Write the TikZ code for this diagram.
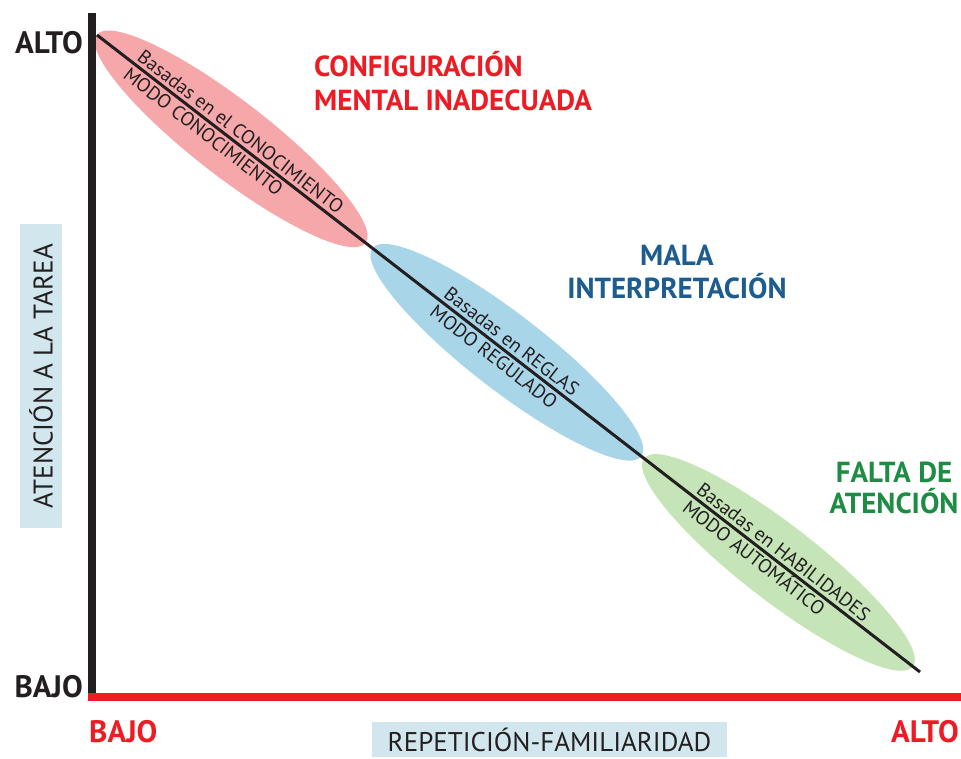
\documentclass[tikz,border=0pt]{standalone}
\usepackage{fontspec}
\setmainfont{PT Sans}
\usetikzlibrary{calc}
\usetikzlibrary{shapes.geometric}

\definecolor{pinkzone}{HTML}{F5A7A9}
\definecolor{bluezone}{HTML}{A9D5E9}
\definecolor{greenzone}{HTML}{C5E4B7}
\definecolor{redtext}{HTML}{ED1C24}
\definecolor{bluetext}{HTML}{1C5C8E}
\definecolor{greentext}{HTML}{1E8C45}
\definecolor{labelbox}{HTML}{D2E6EE}
\definecolor{axisblack}{HTML}{231F20}

\tikzset{
  zone/.style={ellipse, minimum width=340pt, minimum height=76pt, inner sep=0pt, rotate=-37.74},
  modetext/.style={rotate=-37.74, inner xsep=0pt, inner ysep=4.5pt, text height=13.5pt, text depth=0pt, font=\fontsize{19.5}{22}\selectfont, text=axisblack},
  levelmark/.style={inner sep=0pt, font=\fontsize{31}{33}\selectfont\bfseries},
  errortitle/.style={inner sep=0pt, font=\fontsize{29}{33}\selectfont\bfseries},
  axisname/.style={fill=labelbox, inner sep=0pt, font=\fontsize{27}{29}\selectfont, text=axisblack}
}

\begin{document}
\begin{tikzpicture}[x=1pt, y=-1pt]
        \useasboundingbox (0,0) rectangle (961,758);

        \coordinate (ytop) at (92,13);
        \coordinate (origin) at (92,697);
        \coordinate (xstart) at (88,697);
        \coordinate (xend) at (961,697);
        \coordinate (dtop) at (97,35);
        \coordinate (dbot) at (920,672);

        \node[zone, fill=pinkzone] (kno) at ($(dtop)!0.163!(dbot)$) {};
        \node[zone, fill=bluezone] (rul) at ($(dtop)!0.498!(dbot)$) {};
        \node[zone, fill=greenzone] (ski) at ($(dtop)!0.828!(dbot)$) {};

        \draw[line width=3pt, axisblack] (dtop) -- (dbot);

        \node[modetext, anchor=south west] (knotop) at ($(kno.center)!124pt!(dtop)$) {Basadas en el CONOCIMIENTO};
        \node[modetext, anchor=north west] (knobot) at ($(kno.center)!124pt!(dtop)$) {MODO CONOCIMIENTO};
        \node[modetext, anchor=south west] (rultop) at ($(rul.center)!85pt!(dtop)$) {Basadas en REGLAS};
        \node[modetext, anchor=north west] (rulbot) at ($(rul.center)!85pt!(dtop)$) {MODO REGULADO};
        \node[modetext, anchor=south west] (skitop) at ($(ski.center)!109pt!(dtop)$) {Basadas en HABILIDADES};
        \node[modetext, anchor=north west] (skibot) at ($(ski.center)!109pt!(dtop)$) {MODO AUTOMÁTICO};

        \draw[line width=8pt, axisblack] (ytop) -- (origin);
        \draw[line width=8pt, redtext] (xstart) -- (xend);

        \node[errortitle, text=redtext, anchor=base west] (conf1) at (314,76) {CONFIGURACIÓN};
        \node[errortitle, text=redtext, anchor=base west] (conf2) at (314,110) {MENTAL INADECUADA};
        \node[errortitle, text=bluetext, anchor=base] (mala1) at (677,265) {MALA};
        \node[errortitle, text=bluetext, anchor=base] (mala2) at (677,298) {INTERPRETACIÓN};
        \node[errortitle, text=greentext, anchor=base] (falta1) at (894,482) {FALTA DE};
        \node[errortitle, text=greentext, anchor=base] (falta2) at (894,513) {ATENCIÓN};

        \node[levelmark, text=axisblack, anchor=base east] (yhigh) at (83,53) {ALTO};
        \node[levelmark, text=axisblack, anchor=base east] (ylow) at (83,697) {BAJO};
        \node[levelmark, text=redtext, anchor=base west] (xlow) at (89,742) {BAJO};
        \node[levelmark, text=redtext, anchor=base east] (xhigh) at (959,742) {ALTO};

        \node[axisname, minimum width=355pt, minimum height=35pt] (xname) at (549.5,739.5) {REPETICIÓN-FAMILIARIDAD};
        \node[axisname, rotate=90, minimum width=304pt, minimum height=42pt] (yname) at (41,376) {ATENCIÓN A LA TAREA};
\end{tikzpicture}
\end{document}
